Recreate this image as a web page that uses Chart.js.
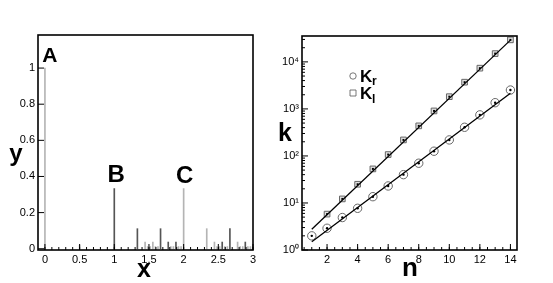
<!DOCTYPE html>
<html>
<head>
<meta charset="utf-8">
<script src="https://cdn.jsdelivr.net/npm/chart.js@4/dist/chart.umd.min.js"></script>
<style>
	html, body { margin: 0; padding: 0; background: #fff; }
	canvas { position: absolute; top: 0; }
	#left { left: 0; }
	#right { left: 270px; }
</style>
</head>
<body>
<canvas id="left" width="270" height="283"></canvas>
<canvas id="right" width="283" height="283"></canvas>
<script>
// left panel: spikes
const darkX = [1, 1.333, 1.667, 1.778, 1.889, 2.556, 2.667, 2.889];
const darkY = [0.333, 0.111, 0.111, 0.037, 0.037, 0.037, 0.111, 0.037];
const lightX = [0, 0.5, 2, 2.333, 1.444, 1.556, 2.444, 2.778,
	1.481, 1.519, 1.593, 1.630, 1.815, 1.852, 1.926, 1.963,
	2.481, 2.519, 2.593, 2.630, 2.815, 2.852, 2.926, 2.963];
const lightY = [1, 0.02, 0.333, 0.111, 0.037, 0.037, 0.037, 0.037,
	0.012, 0.012, 0.012, 0.012, 0.012, 0.012, 0.012, 0.012,
	0.012, 0.012, 0.012, 0.012, 0.012, 0.012, 0.012, 0.012];
const peakLabels = ["A", "B", "C"];
const peakX = [0, 1, 2];
const peakY = [1, 0.333, 0.333];
const leftXTicks = [0, 0.5, 1, 1.5, 2, 2.5, 3];
const leftYTicks = [0, 0.2, 0.4, 0.6, 0.8, 1];

// right panel: k vs n
const nValues = [1, 2, 3, 4, 5, 6, 7, 8, 9, 10, 11, 12, 13, 14];
const krValues = [2, 2.9, 4.9, 7.7, 13.6, 23, 40, 70, 126, 219, 407, 747, 1356, 2520];
const klN = [2, 3, 4, 5, 6, 7, 8, 9, 10, 11, 12, 13, 14];
const klValues = [5.8, 12.2, 25, 53, 107, 219, 436, 906, 1820, 3700, 7350, 15000, 29400];
const fitN = [1, 14];
const krFit = [1.5, 2150];
const klFit = [2.75, 29000];
const rightXTicks = [2, 4, 6, 8, 10, 12, 14];
const rightYTicks = [1, 10, 100, 1000, 10000];

const FONT = '"Liberation Sans", Arial, Helvetica, sans-serif';
const sup = ["\u2070", "\u00b9", "\u00b2", "\u00b3", "\u2074"];

const pts = (xs, ys) => xs.map((x, i) => ({x: x, y: ys[i]}));

// minor tick positions
const leftXMinor = [];
for (let i = 0; i <= 30; i++) leftXMinor.push(i / 10);
const rightXMinor = [];
for (let i = 1; i <= 28; i++) rightXMinor.push(i / 2);
const rightYMinor = [];
for (const d of rightYTicks) for (let m = 2; m <= 9; m++) if (d * m < 35500) rightYMinor.push(d * m);

const frameAndText = {
	id: "frameAndText",
	afterDraw(chart, args, opts) {
		const {ctx, chartArea: a, scales} = chart;
		ctx.save();
		ctx.strokeStyle = "#000";
		ctx.lineWidth = 1;
		ctx.beginPath();
		for (const v of opts.xMajor) { const p = scales.x.getPixelForValue(v); ctx.moveTo(p, a.bottom); ctx.lineTo(p, a.bottom - 6); }
		for (const v of opts.xMinor) { const p = scales.x.getPixelForValue(v); ctx.moveTo(p, a.bottom); ctx.lineTo(p, a.bottom - 3); }
		for (const v of opts.yMajor) { const p = scales.y.getPixelForValue(v); ctx.moveTo(a.left, p); ctx.lineTo(a.left + 6, p); }
		for (const v of opts.yMinor) { const p = scales.y.getPixelForValue(v); ctx.moveTo(a.left, p); ctx.lineTo(a.left + 3, p); }
		ctx.stroke();
		ctx.lineWidth = 1.6;
		ctx.strokeRect(a.left, a.top, a.width, a.height);

		ctx.fillStyle = "#000";
		ctx.textAlign = "center";
		ctx.textBaseline = "alphabetic";
		for (const t of opts.titles) {
			ctx.font = "bold " + t.size + "px " + FONT;
			ctx.fillText(t.text, t.x, t.y);
		}
		if (opts.peaks) {
			peakLabels.forEach((lab, i) => {
				const s = opts.peaks[i];
				ctx.font = "bold " + s.size + "px " + FONT;
				ctx.fillText(lab, scales.x.getPixelForValue(peakX[i]) + s.dx, scales.y.getPixelForValue(peakY[i]) - s.gap);
			});
		}
		if (opts.legend) {
			ctx.textAlign = "left";
			for (const it of opts.legend) {
				ctx.strokeStyle = "#555";
				ctx.lineWidth = 0.8;
				ctx.beginPath();
				if (it.shape === "circle") ctx.arc(it.x, it.y, 3.2, 0, Math.PI * 2);
				else ctx.rect(it.x - 3, it.y - 3, 6, 6);
				ctx.stroke();
				ctx.font = "bold 17px " + FONT;
				ctx.fillText(it.text, it.x + 7, it.y + 6);
				ctx.font = "bold 12px " + FONT;
				ctx.fillText(it.sub, it.x + 19, it.y + 9 + it.subDrop);
			}
		}
		ctx.restore();
	}
};

const tickFont = {family: FONT, size: 11};

new Chart(document.getElementById("left"), {
	type: "bar",
	data: {
		datasets: [
			{data: pts(lightX, lightY), backgroundColor: "#b4b4b4", barThickness: 1, grouped: false},
			{data: pts(darkX, darkY), backgroundColor: "#555", barThickness: 1, grouped: false}
		]
	},
	options: {
		responsive: false,
		animation: false,
		layout: {padding: {left: 0, right: 17, top: 35, bottom: 0}},
		plugins: {
			legend: {display: false},
			tooltip: {enabled: false},
			frameAndText: {
				xMajor: leftXTicks, xMinor: leftXMinor, yMajor: leftYTicks, yMinor: [],
				titles: [{text: "y", size: 24, x: 16, y: 161}, {text: "x", size: 25, x: 144, y: 277}],
				peaks: [{dx: 5, gap: 6, size: 21}, {dx: 2, gap: 7, size: 24}, {dx: 1, gap: 6, size: 24}]
			}
		},
		scales: {
			x: {
				type: "linear", min: -0.1, max: 3, offset: false,
				grid: {display: false, drawTicks: false}, border: {display: false},
				afterBuildTicks: s => { s.ticks = leftXTicks.map(v => ({value: v})); },
				afterFit: s => { s.height = 33; },
				ticks: {font: tickFont, color: "#000", padding: 3, maxRotation: 0, autoSkip: false, callback: v => String(v)}
			},
			y: {
				min: -0.007, max: 1.183,
				grid: {display: false, drawTicks: false}, border: {display: false},
				afterBuildTicks: s => { s.ticks = leftYTicks.map(v => ({value: v})); },
				afterFit: s => { s.width = 38; },
				ticks: {font: tickFont, color: "#000", padding: 3, autoSkip: false, callback: v => String(+v.toFixed(2))}
			}
		}
	},
	plugins: [frameAndText]
});

new Chart(document.getElementById("right"), {
	type: "scatter",
	data: {
		datasets: [
			{data: pts(nValues, krValues), pointRadius: 1.2, backgroundColor: "#000", borderWidth: 0},
			{data: pts(klN, klValues), pointStyle: "rect", pointRadius: 1.4, backgroundColor: "#000", borderWidth: 0},
			{data: pts(fitN, krFit), showLine: true, borderColor: "#000", borderWidth: 1.3, pointRadius: 0},
			{data: pts(fitN, klFit), showLine: true, borderColor: "#000", borderWidth: 1.3, pointRadius: 0},
			{data: pts(nValues, krValues), pointRadius: 4.2, borderColor: "#666", borderWidth: 1, backgroundColor: "rgba(0,0,0,0)"},
			{data: pts(klN, klValues), pointStyle: "rect", pointRadius: 4, borderColor: "#666", borderWidth: 1, backgroundColor: "rgba(0,0,0,0.12)"}
		]
	},
	options: {
		responsive: false,
		animation: false,
		layout: {padding: {left: 0, right: 36, top: 36, bottom: 0}},
		plugins: {
			legend: {display: false},
			tooltip: {enabled: false},
			frameAndText: {
				xMajor: rightXTicks, xMinor: rightXMinor, yMajor: rightYTicks, yMinor: rightYMinor,
				titles: [{text: "k", size: 25, x: 15, y: 141}, {text: "n", size: 26, x: 140, y: 276}],
				legend: [
					{shape: "circle", x: 83, y: 76, text: "K", sub: "r", subDrop: 0},
					{shape: "rect", x: 83, y: 93, text: "K", sub: "l", subDrop: 1}
				]
			}
		},
		scales: {
			x: {
				type: "linear", min: 0.36, max: 14.43,
				grid: {display: false, drawTicks: false}, border: {display: false},
				afterBuildTicks: s => { s.ticks = rightXTicks.map(v => ({value: v})); },
				afterFit: s => { s.height = 33; },
				ticks: {font: tickFont, color: "#000", padding: 3, maxRotation: 0, autoSkip: false, callback: v => String(v)}
			},
			y: {
				type: "logarithmic", min: 1, max: 35500,
				grid: {display: false, drawTicks: false}, border: {display: false},
				afterBuildTicks: s => { s.ticks = rightYTicks.map(v => ({value: v})); },
				afterFit: s => { s.width = 32; },
				ticks: {font: tickFont, color: "#000", padding: 3, autoSkip: false, callback: v => "10" + sup[Math.round(Math.log10(v))]}
			}
		}
	},
	plugins: [frameAndText]
});
</script>
</body>
</html>
